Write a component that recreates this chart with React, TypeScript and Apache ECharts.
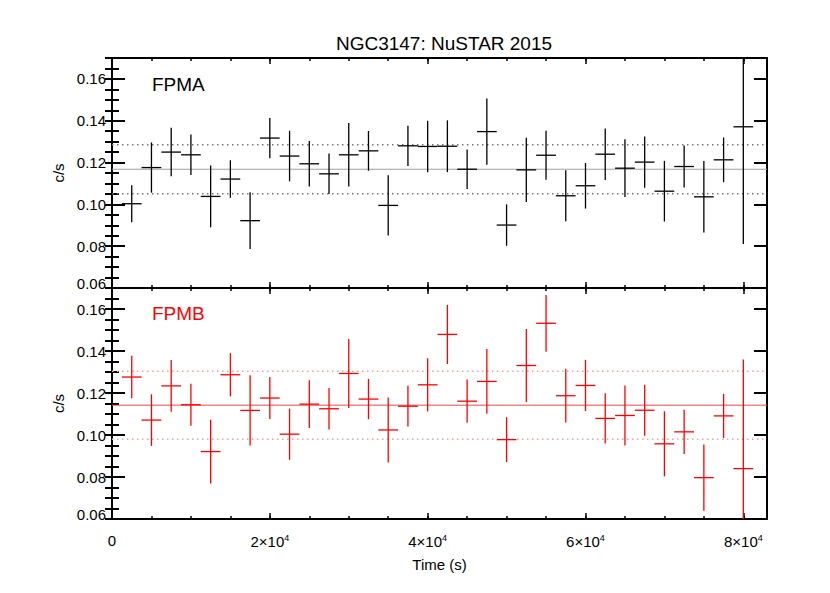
import React, { useEffect, useRef } from "react";
import * as echarts from "echarts";

// Bin centres (s)
const times = [
  2500, 5000, 7500, 10000, 12500, 15000, 17500, 20000, 22500, 25000, 27500, 30000,
  32500, 35000, 37500, 40000, 42500, 45000, 47500, 50000, 52500, 55000, 57500, 60000,
  62500, 65000, 67500, 70000, 72500, 75000, 77500, 80000,
];
const binHalfWidth = 1250;

// FPMA count rate and 1-sigma errors (c/s)
const fpmaRate = [
  0.1003, 0.1176, 0.125, 0.1237, 0.1038, 0.1121, 0.0922, 0.1317, 0.1231, 0.1194, 0.1146, 0.1237,
  0.1256, 0.0995, 0.128, 0.1277, 0.1278, 0.1168, 0.1348, 0.0901, 0.1165, 0.1235, 0.1041, 0.1089,
  0.124, 0.1173, 0.1202, 0.1063, 0.1181, 0.1036, 0.1213, 0.1371,
];
const fpmaErr = [
  0.0088, 0.012, 0.0116, 0.0097, 0.0148, 0.009, 0.0136, 0.0096, 0.0121, 0.0109, 0.0097, 0.0152,
  0.0095, 0.0144, 0.0096, 0.0123, 0.0124, 0.0094, 0.0158, 0.0099, 0.0154, 0.0117, 0.0122, 0.0109,
  0.0123, 0.0138, 0.0122, 0.0145, 0.01, 0.0171, 0.0107, 0.056,
];

// FPMB count rate and 1-sigma errors (c/s)
const fpmbRate = [
  0.1276, 0.1071, 0.1234, 0.1144, 0.0921, 0.1287, 0.1117, 0.1176, 0.1004, 0.1147, 0.1125, 0.1293,
  0.1171, 0.1024, 0.1137, 0.1239, 0.1479, 0.1161, 0.1255, 0.0978, 0.1331, 0.1532, 0.1187, 0.1236,
  0.1079, 0.1093, 0.1118, 0.0958, 0.1015, 0.0797, 0.1091, 0.084,
];
const fpmbErr = [
  0.0101, 0.0123, 0.0123, 0.01, 0.0152, 0.0103, 0.0167, 0.01, 0.0122, 0.0114, 0.0099, 0.0164,
  0.0096, 0.0155, 0.0097, 0.0127, 0.0141, 0.0103, 0.0154, 0.0107, 0.0174, 0.0135, 0.0128, 0.0122,
  0.012, 0.0143, 0.0121, 0.0155, 0.0105, 0.0158, 0.0105, 0.052,
];

// Mean and mean ± sigma levels [mean, lower, upper]
const fpmaLevels = [0.1168, 0.1051, 0.1285];
const fpmbLevels = [0.1142, 0.098, 0.1303];

const xRange = [0, 83000];
const yRange = [0.06, 0.17];

const FONT = "Liberation Sans, Arial, Helvetica, sans-serif";

export default function App() {
  const ref = useRef<HTMLDivElement>(null);

  useEffect(() => {
    document.body.style.margin = "0";
    const chart = echarts.init(ref.current!, null, { renderer: "svg" });

    const grids = [
      { left: 112, right: 63, top: 58, height: 230 },
      { left: 112, right: 63, top: 288, height: 231 },
    ];

    const xAxes: any[] = [];
    const yAxes: any[] = [];
    const axisLine = { show: true, onZero: false, lineStyle: { color: "#000", width: 2 } };

    grids.forEach((_, g) => {
      const showLabels = g === 1;
      // major bottom
      xAxes.push({
        type: "value", gridIndex: g, position: "bottom", min: xRange[0], max: xRange[1], interval: 20000,
        axisLine, splitLine: { show: false },
        axisTick: { show: true, inside: true, length: 6, lineStyle: { color: "#000", width: 1.5 } },
        axisLabel: showLabels
          ? {
              show: true, showMaxLabel: false, margin: 14, color: "#000", fontSize: 15, fontFamily: FONT,
              formatter: (v: number) => (v === 0 ? "0" : `${v / 10000}×10{sup|4}`),
              rich: { sup: { fontSize: 9, fontFamily: FONT, color: "#000", padding: [0, 0, 8, 0] } },
            }
          : { show: false },
        name: showLabels ? "Time (s)" : "",
        nameLocation: "middle", nameGap: 38,
        nameTextStyle: { color: "#000", fontSize: 15, fontFamily: FONT },
      });
      // minor bottom
      xAxes.push({
        type: "value", gridIndex: g, position: "bottom", min: xRange[0], max: xRange[1], interval: 5000,
        axisLine: { show: false }, splitLine: { show: false }, axisLabel: { show: false },
        axisTick: { show: true, inside: true, length: 3, lineStyle: { color: "#000", width: 1.5 } },
      });
      // major top
      xAxes.push({
        type: "value", gridIndex: g, position: "top", min: xRange[0], max: xRange[1], interval: 20000,
        axisLine, splitLine: { show: false }, axisLabel: { show: false },
        axisTick: { show: true, inside: true, length: 6, lineStyle: { color: "#000", width: 1.5 } },
      });
      // minor top
      xAxes.push({
        type: "value", gridIndex: g, position: "top", min: xRange[0], max: xRange[1], interval: 5000,
        axisLine: { show: false }, splitLine: { show: false }, axisLabel: { show: false },
        axisTick: { show: true, inside: true, length: 3, lineStyle: { color: "#000", width: 1.5 } },
      });

      // major left
      yAxes.push({
        type: "value", gridIndex: g, position: "left", min: yRange[0], max: yRange[1], interval: 0.02,
        axisLine, splitLine: { show: false },
        axisTick: { show: true, inside: true, length: 13, lineStyle: { color: "#000", width: 2 } },
        axisLabel: {
          show: true, showMaxLabel: false, margin: 6, color: "#000", fontSize: 15, fontFamily: FONT,
          formatter: (v: number) => (Math.abs(v - yRange[0]) < 1e-9 ? `{low|${v.toFixed(2)}}` : v.toFixed(2)),
          rich: { low: { fontSize: 15, fontFamily: FONT, color: "#000", padding: [0, 0, 9, 0] } },
        },
        name: "c/s", nameLocation: "middle", nameGap: 44,
        nameTextStyle: { color: "#000", fontSize: 15, fontFamily: FONT },
      });
      // minor left
      yAxes.push({
        type: "value", gridIndex: g, position: "left", min: yRange[0], max: yRange[1], interval: 0.005,
        axisLine: { show: false }, splitLine: { show: false }, axisLabel: { show: false },
        axisTick: { show: true, inside: true, length: 7, lineStyle: { color: "#000", width: 2 } },
      });
      // major right
      yAxes.push({
        type: "value", gridIndex: g, position: "right", min: yRange[0], max: yRange[1], interval: 0.02,
        axisLine, splitLine: { show: false }, axisLabel: { show: false },
        axisTick: { show: true, inside: true, length: 13, lineStyle: { color: "#000", width: 2 } },
      });
      // minor right
      yAxes.push({
        type: "value", gridIndex: g, position: "right", min: yRange[0], max: yRange[1], interval: 0.005,
        axisLine: { show: false }, splitLine: { show: false }, axisLabel: { show: false },
        axisTick: { show: true, inside: true, length: 7, lineStyle: { color: "#000", width: 2 } },
      });
    });

    const errSeries = (g: number, rate: number[], err: number[], color: string) => ({
      type: "custom",
      xAxisIndex: g * 4,
      yAxisIndex: g * 4,
      clip: true,
      silent: true,
      z: 5,
      encode: { x: 0, y: 1 },
      data: times.map((t, i) => [t, rate[i], err[i]]),
      renderItem: (params: any, api: any) => {
        const cs = params.coordSys;
        const clampY = (v: number) => Math.max(cs.y, Math.min(cs.y + cs.height, v));
        const x = api.value(0);
        const y = api.value(1);
        const e = api.value(2);
        const c = api.coord([x, y]);
        const l = api.coord([x - binHalfWidth, y]);
        const r = api.coord([x + binHalfWidth, y]);
        const t = api.coord([x, y + e]);
        const b = api.coord([x, y - e]);
        return {
          type: "group",
          children: [
            { type: "line", shape: { x1: l[0], y1: c[1], x2: r[0], y2: c[1] }, style: { stroke: color, lineWidth: 1.3 } },
            { type: "line", shape: { x1: c[0], y1: clampY(t[1]), x2: c[0], y2: clampY(b[1]) }, style: { stroke: color, lineWidth: 1.3 } },
          ],
        };
      },
    });

    const levelSeries = (g: number, v: number, color: string, dotted: boolean) => ({
      type: "line",
      xAxisIndex: g * 4,
      yAxisIndex: g * 4,
      symbol: "none",
      silent: true,
      z: 2,
      data: [[xRange[0], v], [xRange[1], v]],
      lineStyle: dotted
        ? { color, width: 1.5, type: [1.5, 3.5] }
        : { color, width: 1 },
    });

    chart.setOption({
      animation: false,
      backgroundColor: "#fff",
      textStyle: { fontFamily: FONT },
      title: {
        text: "NGC3147: NuSTAR 2015",
        left: 439,
        top: 29,
        textAlign: "center",
        textStyle: { color: "#000", fontSize: 19, fontWeight: "normal", fontFamily: FONT },
      },
      grid: grids,
      xAxis: xAxes,
      yAxis: yAxes,
      graphic: [
        { type: "text", left: 152, top: 75, style: { text: "FPMA", fill: "#000", font: `19px ${FONT}` } },
        { type: "text", left: 152, top: 304, style: { text: "FPMB", fill: "#ff0000", font: `19px ${FONT}` } },
      ],
      series: [
        levelSeries(0, fpmaLevels[0], "#a0a0a0", false),
        levelSeries(0, fpmaLevels[1], "#777777", true),
        levelSeries(0, fpmaLevels[2], "#777777", true),
        errSeries(0, fpmaRate, fpmaErr, "#000"),
        levelSeries(1, fpmbLevels[0], "#f04848", false),
        levelSeries(1, fpmbLevels[1], "#f4a0a0", true),
        levelSeries(1, fpmbLevels[2], "#f4a0a0", true),
        errSeries(1, fpmbRate, fpmbErr, "#ff0000"),
      ],
    });

    return () => chart.dispose();
  }, []);

  return <div ref={ref} style={{ width: 830, height: 593 }} />;
}
